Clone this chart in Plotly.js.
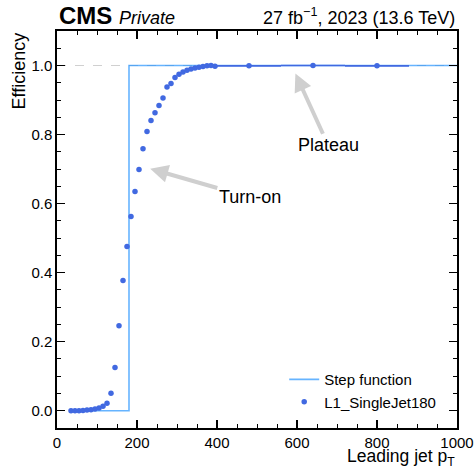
<!DOCTYPE html>
<html>
<head>
<meta charset="utf-8">
<script src="https://cdn.plot.ly/plotly-3.0.1.min.js"></script>
<style>html,body{margin:0;padding:0;background:#fff;}#chart{width:475px;height:469px;}</style>
</head>
<body>
<div id="chart"></div>
<script>
// Turn-on curve: bin centres, efficiencies, bin half-widths
var ptCenters = [35, 45, 55, 65, 75, 85, 95, 105, 115, 125, 135, 145, 155, 165, 175, 185,
  195, 205, 215, 225, 235, 245, 255, 265, 275, 285, 295, 305, 315, 325, 335, 345, 355, 365, 375, 385, 395,
  480, 640, 800];
var efficiency = [0.000, 0.000, 0.000, 0.001, 0.002, 0.003, 0.005, 0.008, 0.013, 0.022, 0.051, 0.125, 0.246, 0.377, 0.476, 0.563,
  0.635, 0.699, 0.759, 0.809, 0.841, 0.863, 0.884, 0.906, 0.938, 0.948, 0.965, 0.975, 0.981, 0.986, 0.990, 0.993, 0.995, 0.997, 0.999, 1.000, 0.998,
  0.999, 1.000, 0.999];
var ptHalfWidth = [5, 5, 5, 5, 5, 5, 5, 5, 5, 5, 5, 5, 5, 5, 5, 5,
  5, 5, 5, 5, 5, 5, 5, 5, 5, 5, 5, 5, 5, 5, 5, 5, 5, 5, 5, 5, 5,
  80, 80, 80];
// Ideal step function
var stepX = [30, 180, 180, 1000];
var stepY = [0, 0, 1, 1];
// Labels
var seriesName = "L1_SingleJet180";
var stepName = "Step function";
var xTickVals = [0, 200, 400, 600, 800, 1000];
var yTickVals = [0.0, 0.2, 0.4, 0.6, 0.8, 1.0];

var FONT = "Liberation Sans, Arial, Helvetica, sans-serif";

var traces = [
  {
    x: stepX, y: stepY, type: "scatter", mode: "lines", name: stepName,
    line: {color: "rgba(30,144,255,0.68)", width: 1.6}
  },
  {
    x: ptCenters, y: efficiency, type: "scatter", mode: "markers", name: seriesName,
    marker: {color: "#4169E1", size: 5.5},
    error_x: {type: "data", array: ptHalfWidth, visible: true, color: "#4169E1", thickness: 1.6, width: 0}
  }
];

var axisCommon = {
  showgrid: false, zeroline: false, showline: true, linecolor: "#000", linewidth: 1.6,
  mirror: "allticks", ticks: "inside", ticklen: 8, tickwidth: 1.2, tickcolor: "#000",
  tickfont: {family: FONT, size: 15, color: "#000"}
};

var layout = {
  width: 475, height: 469,
  margin: {l: 57, r: 18, t: 31, b: 41},
  paper_bgcolor: "#fff", plot_bgcolor: "#fff",
  showlegend: true,
  legend: {
    x: 0.568, y: 0.025, xanchor: "left", yanchor: "bottom",
    bgcolor: "rgba(0,0,0,0)", font: {family: FONT, size: 15, color: "#000"},
    tracegroupgap: 0, itemwidth: 30
  },
  xaxis: Object.assign({}, axisCommon, {
    range: [0, 1000], tickvals: xTickVals,
    minor: {dtick: 50, ticks: "inside", ticklen: 4, tickwidth: 1, tickcolor: "#000"}
  }),
  yaxis: Object.assign({}, axisCommon, {
    range: [-0.05, 1.1], tickvals: yTickVals, tickformat: ".1f",
    minor: {dtick: 0.05, ticks: "inside", ticklen: 4, tickwidth: 1, tickcolor: "#000"}
  }),
  shapes: [
    {type: "line", xref: "paper", x0: 0, x1: 1, yref: "y", y0: 1, y1: 1, layer: "below",
     line: {color: "#d0d0d0", width: 1, dash: "dash"}}
  ],
  annotations: [
    {xref: "paper", yref: "paper", x: 0, y: 1, xanchor: "left", yanchor: "bottom", yshift: 0, showarrow: false,
     text: "<b>CMS</b> <i><span style='font-size:18px'>Private</span></i>",
     font: {family: FONT, size: 24, color: "#000"}},
    {xref: "paper", yref: "paper", x: 1, y: 1, xanchor: "right", yanchor: "bottom", yshift: 1, showarrow: false,
     text: "27 fb<sup>\u22121</sup>, 2023 (13.6 TeV)",
     font: {family: FONT, size: 18, color: "#000"}},
    {xref: "paper", yref: "paper", x: 0, y: 1, xanchor: "center", yanchor: "top", xshift: -39, showarrow: false,
     textangle: -90, text: "Efficiency", font: {family: FONT, size: 18, color: "#000"}},
    {xref: "paper", yref: "paper", x: 1, y: 0, xanchor: "right", yanchor: "middle", yshift: -29, showarrow: false,
     text: "Leading jet p<sub>T</sub>", font: {family: FONT, size: 17.5, color: "#000"}},
    {xref: "x", yref: "y", x: 596, y: 0.977, axref: "x", ayref: "y", ax: 678, ay: 0.769,
     text: "Plateau", showarrow: true, arrowhead: 2, arrowsize: 0.9, arrowwidth: 4, arrowcolor: "#cfcfcf",
     font: {family: FONT, size: 18, color: "#000"}},
    {xref: "x", yref: "y", x: 233, y: 0.701, axref: "x", ayref: "y", ax: 482, ay: 0.618,
     text: "Turn-on", showarrow: true, arrowhead: 2, arrowsize: 0.9, arrowwidth: 4, arrowcolor: "#cfcfcf",
     font: {family: FONT, size: 18, color: "#000"}}
  ]
};

Plotly.newPlot("chart", traces, layout, {displayModeBar: false, staticPlot: true});
</script>
</body>
</html>
